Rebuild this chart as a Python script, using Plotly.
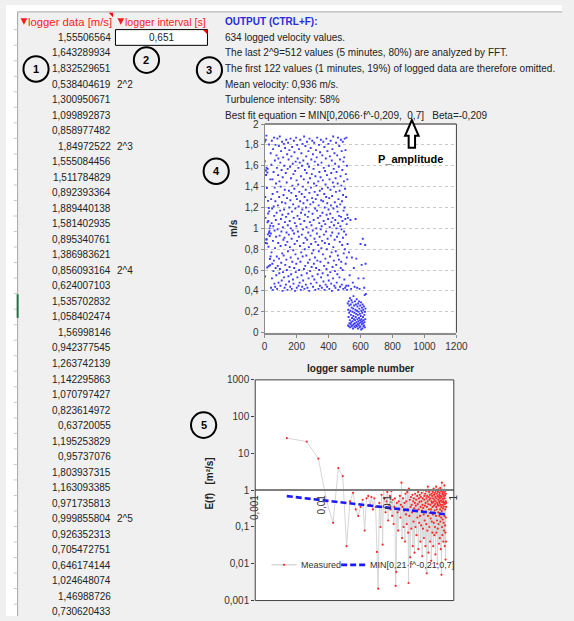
import plotly.graph_objects as go

W, H = 574, 621
def px(x): return x / W
def py(y): return 1 - y / H

FONT = "Liberation Sans, Arial, sans-serif"

# ---------------- data ----------------
logger_interval = 0.651
n_fft = 512

logger_data = [1.55506564, 1.643289934, 1.832529651, 0.538404619, 1.300950671, 1.099892873,
               0.858977482, 1.84972522, 1.555084456, 1.511784829, 0.892393364, 1.889440138,
               1.581402935, 0.895340761, 1.386983621, 0.856093164, 0.624007103, 1.535702832,
               1.058402474, 1.56998146, 0.942377545, 1.263742139, 1.142295863, 1.070797427,
               0.823614972, 0.63720055, 1.195253829, 0.95737076, 1.803937315, 1.163093385,
               0.971735813, 0.999855804, 0.926352313, 0.705472751, 0.646174144, 1.024648074,
               1.46988726, 0.730620433]
pow_rows = [4, 8, 16, 32]
pow_labels = ["2^2", "2^3", "2^4", "2^5"]

velocity_rest = [
    1.72, 0.95, 0.43, 1.28, 1.61, 0.77, 1.05, 1.84, 0.52, 1.19, 0.66, 1.47, 1.33, 0.41, 0.88, 1.76, 1.02, 0.59, 1.54, 1.21,
    0.69, 1.87, 1.12, 0.47, 0.98, 1.39, 1.65, 0.81, 0.44, 1.26, 1.80, 0.62, 1.08, 1.43, 0.92, 0.55, 1.70, 1.15, 0.73, 1.58,
    0.42, 1.35, 1.86, 0.99, 0.64, 1.22, 1.51, 0.86, 1.67, 0.48, 1.04, 1.79, 0.71, 1.30, 0.57, 1.45, 0.93, 1.88, 0.61, 1.17,
    1.63, 0.45, 0.83, 1.40, 1.09, 1.74, 0.67, 0.97, 1.56, 0.50, 1.25, 1.83, 0.76, 1.13, 0.40, 1.49, 1.01, 0.58, 1.68, 0.89,
    1.32, 0.74, 1.81, 0.53, 1.18, 1.60, 0.91, 0.43, 1.37, 1.06, 1.77, 0.65, 1.24, 0.84, 1.53, 0.46, 1.11, 1.85, 0.70, 0.96,
    1.44, 0.60, 1.29, 1.71, 0.87, 0.41, 1.57, 1.03, 0.78, 1.82, 1.14, 0.54, 1.66, 0.94, 1.36, 0.49, 1.20, 1.75, 0.63, 1.07,
    0.82, 1.59, 0.44, 1.27, 1.86, 0.72, 1.00, 1.48, 0.56, 1.34, 1.69, 0.90, 0.42, 1.16, 1.78, 0.68, 1.41, 0.98, 1.62, 0.51,
    1.23, 0.79, 1.52, 0.47, 1.10, 1.84, 0.95, 0.62, 1.38, 1.73, 0.85, 1.05, 0.40, 1.55, 1.19, 0.75, 1.64, 0.58, 1.31, 1.87,
    0.66, 1.02, 1.46, 0.43, 1.28, 0.88, 1.80, 0.53, 1.12, 1.67, 0.97, 0.71, 1.42, 1.58, 0.45, 1.21, 0.92, 1.76, 0.60, 1.35,
    1.09, 0.48, 1.63, 0.83, 1.26, 1.85, 0.68, 1.04, 0.41, 1.50, 1.15, 0.77, 1.72, 0.55, 1.33, 0.94, 1.60, 0.44, 1.18, 1.81,
    0.73, 1.40, 0.99, 0.50, 1.65, 1.24, 0.86, 1.47, 0.61, 1.88, 1.07, 0.42, 1.30, 0.80, 1.56, 1.13, 0.64, 1.79, 0.91, 1.37,
    0.46, 1.20, 1.69, 0.74, 1.01, 1.53, 0.57, 1.83, 0.89, 1.27, 0.43, 1.62, 1.11, 0.67, 1.44, 0.96, 1.74, 0.52, 1.16, 0.82,
    1.59, 0.40, 1.34, 1.86, 0.70, 1.06, 1.48, 0.59, 1.23, 0.93, 1.77, 0.47, 1.39, 0.85, 1.66, 1.03, 0.63, 1.52, 0.76, 1.29,
    1.84, 0.54, 1.14, 0.98, 1.71, 0.44, 1.25, 0.79, 1.57, 1.08, 0.66, 1.43, 1.82, 0.51, 0.90, 1.35, 1.64, 0.72, 1.19, 0.41,
    1.50, 0.87, 1.28, 1.75, 0.62, 1.00, 1.41, 0.48, 1.68, 0.95, 1.17, 1.87, 0.69, 1.32, 0.56, 1.10, 1.61, 0.84, 1.45, 0.42,
    1.22, 0.78, 1.80, 0.60, 1.05, 1.54, 0.92, 1.36, 0.45, 1.73, 1.12, 0.68, 1.49, 0.99, 1.85, 0.53, 1.27, 0.81, 1.63, 1.02,
    0.43, 1.38, 0.88, 1.70, 1.15, 0.57, 1.46, 0.75, 1.26, 1.83, 0.49, 1.07, 1.58, 0.94, 0.64, 1.33, 1.78, 0.41, 1.20, 0.86,
    1.55, 1.04, 0.71, 1.42, 0.46, 1.67, 0.97, 1.30, 1.86, 0.61, 1.13, 0.80, 1.51, 0.44, 1.24, 1.74, 0.90, 0.55, 1.39, 1.09,
    0.67, 1.81, 1.18, 0.50, 1.60, 0.85, 1.29, 0.42, 1.47, 1.01, 1.69, 0.73, 1.14, 0.58, 1.37, 1.84, 0.93, 1.22, 0.47, 1.53,
    1.06, 0.77, 1.65, 0.40, 1.31, 0.96, 1.76, 0.63, 1.10, 1.44, 0.52, 1.88, 0.82, 1.19, 1.57, 0.69, 1.03, 1.40, 0.45, 1.72,
    0.89, 1.25, 0.59, 1.62, 1.08, 0.43, 1.48, 0.78, 1.35, 1.82, 0.65, 1.00, 1.54, 0.48, 1.21, 0.92, 1.70, 0.56, 1.16, 1.43,
    0.74, 1.87, 1.05, 0.41, 1.28, 0.95, 1.59, 0.70, 1.12, 1.79, 0.53, 1.36, 0.87, 1.66, 0.44, 1.23, 1.02, 1.50, 0.62, 1.85,
    1.11, 0.68, 1.41, 0.99, 1.74, 0.46, 1.26, 0.84, 1.56, 1.07, 0.60, 1.83, 0.91, 1.32, 0.42, 1.64, 1.17, 0.76, 1.45, 0.97,
    1.68, 0.51, 1.20, 1.86, 0.80, 1.38, 0.43, 1.09, 1.75, 0.66, 1.52, 0.94, 1.30, 0.45, 1.87, 1.04, 0.72, 1.60, 0.41, 1.13,
    1.47, 0.85,
    0.28, 1.10, 0.07, 0.22, 0.45, 0.15, 0.30, 0.06, 0.77, 0.19, 0.26, 0.09, 0.55, 0.12, 0.33, 0.05, 0.21, 1.08, 0.08, 0.27,
    0.17, 0.42, 0.10, 0.31, 0.06, 0.24, 0.72, 0.14, 0.07, 0.29, 0.20, 0.11, 0.48, 0.04, 0.23, 0.16, 0.35, 0.08, 0.62, 0.13,
    0.26, 0.06, 0.19, 0.44, 0.09, 0.30, 0.12, 0.05, 0.22, 1.09, 0.15, 0.27, 0.07, 0.18, 0.71, 0.10, 0.32, 0.06, 0.21, 0.43,
    0.13, 0.25, 0.08, 0.17, 0.04, 0.28, 0.11, 0.52, 0.20, 0.07, 0.14, 0.30, 0.09, 0.23, 0.42, 0.05, 0.18, 0.12, 0.26, 0.06,
    0.85, 0.16, 0.10, 0.29, 0.03, 0.21, 0.13, 0.65, 0.08, 0.24, 0.11, 0.19, 0.04, 0.27, 0.90, 0.09, 0.15, 0.22, 0.06, 0.52,
    0.12, 0.25, 0.07, 0.43, 0.17, 0.10, 0.36, 0.05, 0.20, 0.84, 0.13, 0.23, 0.66, 0.37,
]
velocity = logger_data + velocity_rest
sample_no = list(range(len(velocity)))

spectrum_E = [
    26, 21, 7.2, 0.5, 0.13, 4.0, 2.4, 0.03, 0.5, 0.85,
    0.3, 0.2, 0.35, 0.55, 0.08, 0.6, 0.7, 0.4, 0.65, 0.3,
    0.6, 0.35, 0.021, 0.0021, 0.45, 0.1, 0.75, 0.033, 1.0, 0.6,
    0.25, 0.5, 0.9, 0.15, 0.4, 0.7, 0.3, 0.95, 0.2, 0.55,
    0.12, 0.35, 0.6, 0.0025, 0.006, 0.45, 0.25, 0.08, 0.5, 0.3,
    0.7, 0.18, 0.4, 1.6, 0.05, 0.35, 0.6, 0.1, 0.28, 0.45,
    0.04, 0.8, 0.22, 0.5, 0.12, 0.9, 0.3, 0.07, 0.003, 1.1,
    0.2, 0.55, 0.015, 0.35, 0.65, 0.09, 0.4, 0.25, 0.75, 0.03,
    0.5, 0.14, 0.6, 0.32, 0.02, 0.45, 0.8, 0.1, 0.38, 0.55,
    0.06, 0.27, 0.7, 0.18, 0.42, 0.9, 0.025, 0.3, 0.6, 0.13,
    0.48, 0.75, 0.2, 0.04, 0.35, 0.65, 0.11, 0.5, 0.85, 0.28,
    0.016, 0.4, 0.6, 0.09, 0.33, 1.0, 0.22, 0.05, 0.55, 0.7,
    0.15, 0.38, 0.8, 0.03, 0.45, 0.26, 0.95, 0.12, 0.6, 0.0055,
    0.35, 0.7, 0.08, 0.5, 1.25, 0.2, 0.42, 0.02, 0.65, 0.3,
    0.9, 0.1, 0.55, 0.24, 0.75, 0.04, 0.4, 0.6, 0.17, 1.0,
    0.3, 0.012, 0.5, 0.8, 0.14, 0.45, 0.7, 0.07, 0.35, 0.9,
    0.22, 0.6, 0.03, 0.48, 1.1, 0.13, 0.38, 0.75, 0.06, 0.55,
    0.28, 0.85, 0.1, 0.42, 0.65, 0.018, 0.5, 0.95, 0.2, 1.25,
    0.35, 0.07, 0.6, 0.3, 0.8, 0.15, 0.45, 0.01, 0.7, 0.4,
    0.09, 0.9, 0.25, 0.55, 1.05, 0.12, 0.38, 0.65, 0.035, 0.5,
    0.75, 0.2, 0.45, 0.85, 0.05, 0.6, 0.3, 1.15, 0.14, 0.4,
    0.7, 0.025, 0.52, 0.95, 0.18, 0.35, 0.005, 0.65, 0.27, 1.6,
    0.1, 0.48, 0.8, 0.06, 0.4, 0.9, 0.16, 0.58, 0.32, 0.75,
    0.04, 0.5, 1.0, 0.13, 0.36, 0.68, 0.08, 0.45, 0.85, 1.35,
    0.2, 0.6, 0.03, 0.42, 0.72, 0.11, 0.3, 0.95, 0.07, 0.013,
    0.5, 0.18, 0.8, 0.04, 0.35, 0.45,
]
freq = [k / (n_fft * logger_interval) for k in range(1, len(spectrum_E) + 1)]

fit_f = [freq[0], freq[-1]]
fit_E = [0.69, 0.22]

vel_ticks = [0, 0.2, 0.4, 0.6, 0.8, 1, 1.2, 1.4, 1.6, 1.8, 2]
vel_tick_text = ["0", "0,2", "0,4", "0,6", "0,8", "1", "1,2", "1,4", "1,6", "1,8", "2"]
sample_ticks = [0, 200, 400, 600, 800, 1000, 1200]
f_ticks = [0.001, 0.01, 0.1, 1]
f_tick_text = ["0,001", "0,01", "0,1", "1"]
E_ticks = [0.001, 0.01, 0.1, 1, 10, 100, 1000]
E_tick_text = ["0,001", "0,01", "0,1", "1", "10", "100", "1000"]

output_lines = [
    "634 logged velocity values.",
    "The last 2^9=512 values (5 minutes, 80%) are analyzed by FFT.",
    "The first 122 values (1 minutes, 19%) of logged data are therefore omitted.",
    "Mean velocity: 0,936 m/s.",
    "Turbulence intensity: 58%",
    "Best fit equation = MIN[0,2066·f^-0,209,\u00a0 0,7]\u00a0\u00a0 Beta=-0,209",
]

# ---------------- figure ----------------
fig = go.Figure()

fig.add_trace(go.Scatter(
    x=sample_no, y=velocity, mode="markers", xaxis="x", yaxis="y",
    marker=dict(symbol="square", size=1.9, color="#3a3aff"), showlegend=False))

fig.add_trace(go.Scatter(
    x=freq, y=spectrum_E, mode="lines+markers", xaxis="x2", yaxis="y2",
    line=dict(color="#d6d6d6", width=1),
    marker=dict(size=2.2, color="#ff2a2a"), showlegend=False))

fig.add_trace(go.Scatter(
    x=fit_f, y=fit_E, mode="lines", xaxis="x2", yaxis="y2",
    line=dict(color="#1a1aff", width=2.6, dash="6px,3px"), showlegend=False))

tickfont = dict(family=FONT, size=10, color="#333333")

fig.update_layout(
    width=W, height=H, autosize=False,
    margin=dict(l=0, r=0, t=0, b=0),
    paper_bgcolor="#f0f0f0", plot_bgcolor="#ffffff",
    showlegend=False,
    font=dict(family=FONT, size=10, color="#222222"),
    xaxis=dict(domain=[px(267), px(465)], range=[0, 1200], anchor="y",
               tickvals=sample_ticks, showgrid=False, zeroline=False,
               showline=True, linecolor="#8c8c8c", linewidth=2,
               ticks="outside", ticklen=3, tickcolor="#8c8c8c", tickfont=tickfont),
    yaxis=dict(domain=[py(333), py(121)], range=[0, 2], anchor="x",
               tickvals=vel_ticks, ticktext=vel_tick_text, zeroline=False,
               showgrid=True, gridcolor="#c8c8c8", griddash="dot", gridwidth=1,
               showline=True, linecolor="#8c8c8c", linewidth=1,
               ticks="outside", ticklen=3, tickcolor="#8c8c8c", tickfont=tickfont),
    xaxis2=dict(type="log", domain=[px(257.3), px(462.3)], range=[-3, 0],
                anchor="free", position=py(493),
                tickvals=f_ticks, ticktext=f_tick_text, tickangle=-90,
                showgrid=False, zeroline=False,
                showline=True, linecolor="#7f7f7f", linewidth=2,
                ticks="", tickfont=tickfont),
    yaxis2=dict(type="log", domain=[py(605.3), py(381)], range=[-3, 3], anchor="x2",
                tickvals=E_ticks, ticktext=E_tick_text, showgrid=False, zeroline=False,
                showline=False, ticks="outside", ticklen=3, tickcolor="#404040",
                tickfont=tickfont),
)

shapes = []
def pline(x0, y0, x1, y1, color, width=1, layer="above"):
    shapes.append(dict(type="line", xref="paper", yref="paper",
                       x0=px(x0), y0=py(y0), x1=px(x1), y1=py(y1),
                       line=dict(color=color, width=width), layer=layer))

def ppath(pts, fill, line_color=None, line_width=0):
    path = "M " + " L ".join(f"{px(a)},{py(b)}" for a, b in pts) + " Z"
    shapes.append(dict(type="path", xref="paper", yref="paper", path=path,
                       fillcolor=fill,
                       line=dict(color=line_color or fill, width=line_width)))

# spreadsheet chrome
shapes.append(dict(type="rect", xref="paper", yref="paper", x0=0, x1=1, y0=py(7), y1=1,
                   fillcolor="#ffffff", line=dict(width=0), layer="below"))
shapes.append(dict(type="rect", xref="paper", yref="paper", x0=0, x1=px(12), y0=0, y1=1,
                   fillcolor="#ffffff", line=dict(width=0), layer="below"))
pline(12, 7, W, 7, "#a6a6a6", 1)
pline(12, 7, 12, H, "#a6a6a6", 1)
row_h = 15.78
for i in range(40):
    yb = 25.1 + row_h * i
    if yb < H:
        pline(8, yb, 12, yb, "#c8c8c8", 1)
pline(12, 294, 12, 318, "#217346", 2)

# input cell
shapes.append(dict(type="rect", xref="paper", yref="paper",
                   x0=px(113), x1=px(208), y0=py(41), y1=py(25),
                   fillcolor="#ffffff", line=dict(color="#000000", width=1)))
# comment-corner triangles
ppath([(106, 8), (110.5, 8), (110.5, 12.5)], "#ff0000")
ppath([(203.5, 25.5), (208, 25.5), (208, 30)], "#ff0000")
# filter drop-down arrows in headers
ppath([(15, 13.5), (22, 13.5), (18.5, 20)], "#ff1a1a")
ppath([(115, 13.5), (122, 13.5), (118.5, 20)], "#ff1a1a")

# scatter frame (top & right)
pline(267, 121, 465, 121, "#8c8c8c", 2)
pline(465, 121, 465, 333, "#404040", 1)

# spectrum frame
shapes.append(dict(type="rect", xref="x2 domain", yref="y2 domain", x0=0, x1=1, y0=0, y1=1,
                   line=dict(color="#404040", width=1)))

# circles
circles = [(31, 65, "1"), (145, 56, "2"), (210, 66, "3"), (217, 169, "4"), (204, 427, "5")]
for cx, cy, _ in circles:
    r = 13
    shapes.append(dict(type="circle", xref="paper", yref="paper",
                       x0=px(cx - r), x1=px(cx + r), y0=py(cy + r), y1=py(cy - r),
                       line=dict(color="#000000", width=2)))

# P_amplitude arrow
ppath([(419, 117), (426, 133), (422.3, 133), (422.3, 145), (415.7, 145), (415.7, 133), (412, 133)],
      "#ffffff", "#000000", 2)

# manual legend samples
pline(274, 569, 300, 569, "#c8c8c8", 1)
shapes.append(dict(type="circle", xref="paper", yref="paper",
                   x0=px(285.9), x1=px(288.1), y0=py(570.1), y1=py(567.9),
                   fillcolor="#ff2020", line=dict(width=0)))
shapes.append(dict(type="line", xref="paper", yref="paper",
                   x0=px(346), y0=py(569), x1=px(373), y1=py(569),
                   line=dict(color="#1a1aff", width=2.6, dash="6px,3px")))

fig.update_layout(shapes=shapes)

ann = []
def text(x, y, s, size=10, color="#222222", xanchor="left", bold=False, angle=0):
    if bold:
        s = f"<b>{s}</b>"
    ann.append(dict(xref="paper", yref="paper", x=px(x), y=py(y), text=s, showarrow=False,
                    xanchor=xanchor, yanchor="middle", textangle=angle,
                    font=dict(family=FONT, size=size, color=color)))

def fmt(v):
    return repr(v).replace(".", ",")

text(20.5, 17.2, "logger data [m/s]", size=11.3, color="#ff1a1a")
text(120.5, 17.2, "logger interval [s]", size=10.6, color="#ff1a1a")
for i, v in enumerate(logger_data):
    text(110, 33 + row_h * i, fmt(v), xanchor="right")
for r, lab in zip(pow_rows, pow_labels):
    text(113, 33 + row_h * (r - 1), lab)
text(160.5, 33, fmt(logger_interval), xanchor="center")

text(224, 17.2, "OUTPUT (CTRL+F):", size=10, color="#2b2bdd", bold=True)
for i, line in enumerate(output_lines):
    text(224, 33 + row_h * i, line)

for cx, cy, lab in circles:
    text(cx, cy, lab, size=11, color="#000000", xanchor="center", bold=True)

text(418, 157, "P_amplitude", size=11, color="#000000", xanchor="center", bold=True)
text(366, 369, "logger sample number", size=10, color="#222222", xanchor="center", bold=True)
text(235, 227, "m/s", size=10, color="#222222", xanchor="center", bold=True, angle=-90)
text(210, 486, "E(f)\u00a0\u00a0 [m²/s]", size=10, color="#222222", xanchor="center", bold=True, angle=-90)

text(302, 569, "Measured", size=9, color="#333333")
text(374, 569, "MIN[0,21·f^-0,21,0,7]", size=9, color="#333333")

fig.update_layout(annotations=ann)

fig.write_html("out.html", config={"displayModeBar": False},
               post_script="document.body.style.margin='0';document.body.style.overflow='hidden';")
